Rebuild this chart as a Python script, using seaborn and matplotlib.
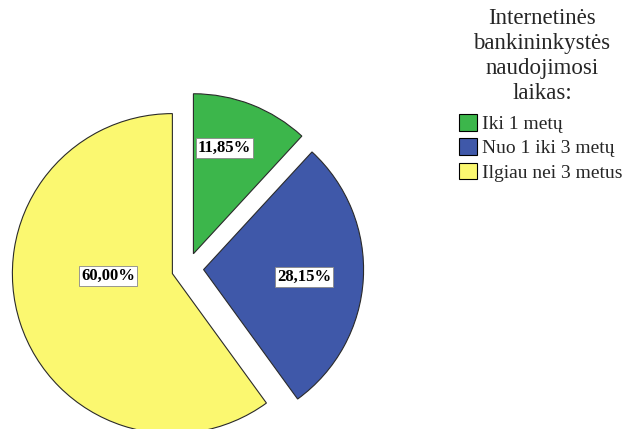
import matplotlib
matplotlib.use("Agg")
import matplotlib.pyplot as plt
import seaborn as sns
import numpy as np

categories = ["Iki 1 metų", "Nuo 1 iki 3 metų", "Ilgiau nei 3 metus"]
values = [11.85, 28.15, 60.00]
colors = ["#3cb64b", "#3f58a9", "#fbf870"]
legend_title = "Internetinės\nbankininkystės\nnaudojimosi\nlaikas:"

sns.set_style("white")
plt.rcParams["font.family"] = ["Liberation Serif", "DejaVu Serif"]

fig = plt.figure(figsize=(6.3, 4.29), dpi=100)
ax = fig.add_axes([0, 0, 1, 1])

wedges, texts, autotexts = ax.pie(
    values, colors=colors, startangle=90, counterclock=False,
    explode=[0.1, 0.1, 0.1], radius=1.0,
    autopct=lambda p: f"{p:.2f}%".replace(".", ","),
    wedgeprops=dict(edgecolor="#2a2a2a", linewidth=0.8),
    textprops=dict(fontsize=12, fontweight="bold", color="black"),
)

# label placement: radial distance and angle offset per slice
label_dist = [0.69, 0.63, 0.40]
label_ang = [5.0, -0.8, -16.0]
for w, t, d, a in zip(wedges, autotexts, label_dist, label_ang):
    ang = np.deg2rad((w.theta1 + w.theta2) / 2 + a)
    cx, cy = w.center
    t.set_position((cx + d * np.cos(ang), cy + d * np.sin(ang)))
    t.set_bbox(dict(facecolor="white", edgecolor="#888888", linewidth=0.6, pad=1.5))

ax.set_xlim(-1.1725, 2.765)
ax.set_ylim(-1.002, 1.679)
ax.set_aspect("equal")
ax.axis("off")

fig.text(542 / 630, 1 - 99 / 429, legend_title, ha="center", va="baseline",
         multialignment="center", fontsize=16.5, linespacing=1.24)

leg = ax.legend(
    wedges, categories, loc="upper left",
    bbox_to_anchor=(459 / 630, 1 - 114 / 429), bbox_transform=fig.transFigure,
    frameon=False, fontsize=14,
    handlelength=0.95, handleheight=0.95, handletextpad=0.25,
    labelspacing=0.27, borderpad=0, borderaxespad=0,
)
for h in leg.legend_handles:
    h.set_edgecolor("black")
    h.set_linewidth(0.8)

fig.savefig("out.png", dpi=100)
